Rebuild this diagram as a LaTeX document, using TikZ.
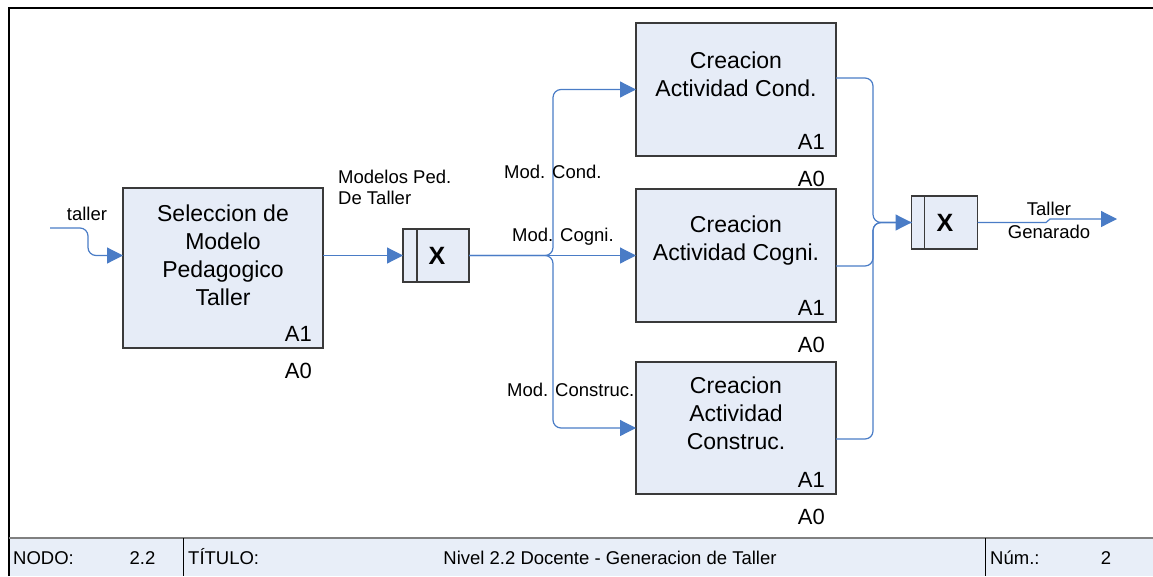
\documentclass[tikz,border=0pt]{standalone}
\usepackage{fontspec}
\setmainfont{Liberation Sans}
\usetikzlibrary{arrows.meta,calc}

\definecolor{boxfill}{HTML}{E6ECF7}
\definecolor{footfill}{HTML}{E8EEF8}
\definecolor{flowblue}{HTML}{4A7CC6}
\definecolor{boxedge}{HTML}{3A3A3A}

\tikzset{
  procbox/.style={draw=boxedge, line width=1.3pt, fill=boxfill, rectangle,
    minimum width=200pt, inner sep=0pt, outer sep=0pt},
  gatebox/.style={draw=boxedge, line width=1.3pt, fill=boxfill, rectangle,
    minimum width=66pt, minimum height=53pt, inner sep=0pt, outer sep=0pt},
  boxtext/.style={align=center, inner sep=0pt, font=\fontsize{23}{28}\selectfont},
  reftext/.style={anchor=east, inner sep=0pt, font=\fontsize{22}{26}\selectfont},
  flowlabel/.style={inner sep=0pt, font=\fontsize{18.5}{21}\selectfont},
  foottext/.style={inner sep=0pt, anchor=base, font=\fontsize{18.5}{22}\selectfont},
  flow/.style={draw=flowblue, line width=1.2pt, rounded corners=8pt,
    -{Triangle[length=16pt,width=16pt]}},
  flowline/.style={draw=flowblue, line width=1.2pt, rounded corners=8pt},
}

\begin{document}
\begin{tikzpicture}[x=1pt, y=-1pt]
  \useasboundingbox (0,0) rectangle (1153,576);

  % outer frame and title block
  \fill[footfill] (9,538) rectangle (1153,576);
  \draw[line width=2pt] (9,576) -- (9,8) -- (1153,8);
  \draw[gray, line width=2.2pt] (9,538) -- (1153,538);
  \draw[line width=1pt] (183,538) -- (183,576);
  \draw[line width=1pt] (985,538) -- (985,576);
  \node[foottext, anchor=base west] (fnodo) at (13,564) {NODO:};
  \node[foottext] (fnum) at (142.5,564) {2.2};
  \node[foottext, anchor=base west] (ftit) at (188,564) {TÍTULO:};
  \node[foottext] (fname) at (610,564) {Nivel 2.2 Docente - Generacion de Taller};
  \node[foottext, anchor=base west] (fnumlbl) at (990,564) {Núm.:};
  \node[foottext] (fpage) at (1106,564) {2};

  % activity boxes
  \node[procbox, minimum height=160pt] (sel) at (223,268) {};
  \node[procbox, minimum height=133pt] (cond) at (736,89.5) {};
  \node[procbox, minimum height=133pt] (cog) at (736,255.5) {};
  \node[procbox, minimum height=132pt] (cons) at (736,428) {};

  \node[boxtext] (selt) at (223,255) {Seleccion de\\Modelo\\Pedagogico\\Taller};
  \node[boxtext] (condt) at (736,74.5) {Creacion\\Actividad Cond.};
  \node[boxtext] (cogt) at (736,241) {Creacion\\Actividad Cogni.};
  \node[boxtext] (const) at (736,413.5) {Creacion\\Actividad\\Construc.};

  \foreach \b in {sel,cond,cog,cons}{
    \node[reftext] (\b-a1) at ($(\b.south east)+(-11,-14)$) {A1};
    \node[reftext] (\b-a0) at ($(\b.south east)+(-11,23)$) {A0};
  }

  % junction boxes
  \node[gatebox] (g1) at (436,255.5) {};
  \draw[boxedge, line width=1.3pt] ($(g1.north west)+(14,0)$) -- ($(g1.south west)+(14,0)$);
  \node[inner sep=0pt, font=\fontsize{25}{25}\selectfont\bfseries] (g1x) at (437,255.5) {X};

  \node[gatebox] (g2) at (944.5,222.5) {};
  \draw[boxedge, line width=1.3pt] ($(g2.north west)+(13,0)$) -- ($(g2.south west)+(13,0)$);
  \node[inner sep=0pt, font=\fontsize{25}{25}\selectfont\bfseries] (g2x) at (945,222.5) {X};

  % flows
  \coordinate (tin) at (50,228);
  \coordinate (jn) at (553,256);
  \coordinate (jo) at (873,222.5);
  \coordinate (tout) at (1117,219);

  \draw[flow] (tin) -- (88,228) |- (g1.west -| sel.west);
  \draw[flow] (sel.east |- g1.west) -- (g1.west);

  \draw[flow] (g1.east) -- (cog.west);
  \draw[flow] (g1.east) -| (jn |- cond.west) -- (cond.west);
  \draw[flow] (g1.east) -| (jn |- cons.west) -- (cons.west);

  \draw[flowline] ($(cond.east)+(0,-11.5)$) -| (jo) -- (g2.west);
  \draw[flowline] ($(cog.east)+(0,10.5)$) -| (jo) -- (g2.west);
  \draw[flow] ($(cons.east)+(0,11)$) -| (jo) -- (g2.west);

  \draw[flow, rounded corners=0pt] (g2.east) -- (1046,222.5) -- (1050,219) -- (tout);

  % flow labels
  \node[flowlabel] (ltaller) at (87,214) {taller};
  \node[flowlabel, anchor=west, align=left] (lmod) at (338,187) {Modelos Ped.\\De Taller};
  \node[flowlabel, anchor=west] (lcond) at (504,172) {Mod. Cond.};
  \node[flowlabel, anchor=west] (lcog) at (512,237) {Mod. Cogni.};
  \node[flowlabel, anchor=west] (lcons) at (507,390) {Mod. Construc.};
  \node[flowlabel, align=center, font=\fontsize{18.5}{23}\selectfont] (lout) at (1049,220.5) {Taller\\Genarado};
\end{tikzpicture}
\end{document}
